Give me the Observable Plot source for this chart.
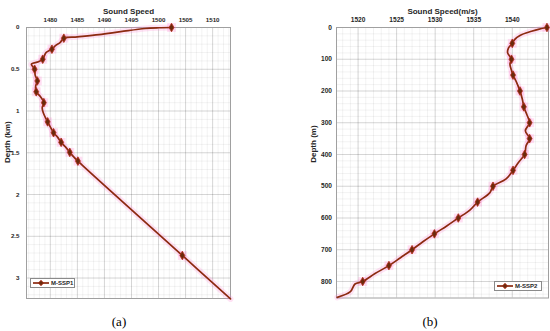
<!DOCTYPE html>
<html><head><meta charset="utf-8">
<script src="https://cdn.jsdelivr.net/npm/d3@7"></script>
<script src="https://cdn.jsdelivr.net/npm/@observablehq/plot@0.6"></script>
<style>
body{margin:0;background:#fff;}
#wrap{position:relative;width:550px;height:331px;overflow:hidden;font-family:"Liberation Sans",Arial,sans-serif;}
.panel{position:absolute;top:0;}
.cap{position:absolute;font-family:"Liberation Serif","Times New Roman",serif;font-size:13px;transform:translate(-50%,-50%);color:#000;}
.legend{position:absolute;border:1px solid #8a8a8a;background:#fff;font-weight:bold;font-size:6px;display:flex;align-items:center;box-sizing:border-box;color:#262626;}
.legend svg{margin:0 2px 0 2px;}
</style></head>
<body><div id="wrap"></div>
<script>
// ---- Panel (a): M-SSP1 ----
const speed1 = [1502.4,1500,1497.5,1493,1489,1485,1482.5,1481.8,1480.9,1480.3,1479.2,1478.6,1477.8,1476.5,1477.1,1477.2,1477.6,1477.3,1477.4,1478.2,1478.8,1478.5,1478.7,1479.5,1480.0,1480.6,1481.3,1482.0,1482.8,1483.6,1484.2,1485.1,1504.4,1513.3];
const depth1 = [0,0.003,0.012,0.05,0.085,0.112,0.128,0.18,0.22,0.26,0.3,0.38,0.41,0.44,0.5,0.57,0.64,0.7,0.77,0.83,0.9,0.96,1.02,1.13,1.19,1.26,1.31,1.375,1.43,1.495,1.54,1.6,2.73,3.25];
const markSpeed1 = [1502.4,1482.5,1480.3,1478.6,1477.1,1477.6,1477.4,1478.8,1479.5,1480.6,1482.0,1483.6,1485.1,1504.4];
const markDepth1 = [0,0.128,0.26,0.38,0.5,0.64,0.77,0.9,1.13,1.26,1.375,1.495,1.6,2.73];
const xTicks1 = [1480,1485,1490,1495,1500,1505,1510];
const yTicks1 = [0,0.5,1,1.5,2,2.5,3];

// ---- Panel (b): M-SSP2 ----
const speed2 = [1544.5,1543.5,1542.5,1541,1540.3,1540.0,1539.5,1539.4,1539.9,1539.7,1539.9,1540.1,1540.6,1541.0,1541.3,1541.5,1541.9,1542.25,1541.7,1542.25,1541.8,1541.6,1540.8,1540.1,1539.2,1537.5,1537.1,1535.5,1534.5,1533.0,1531.5,1529.9,1528.4,1527.0,1525.5,1524.0,1522.2,1520.6,1519.6,1519.0,1517.3];
const depth2 = [0,5,12,25,38,50,65,80,100,115,135,150,175,200,225,250,275,300,325,350,372,400,425,450,477,500,520,550,575,600,625,650,675,700,725,750,775,800,808,832,850];
const markSpeed2 = [1544.5,1540.0,1539.9,1540.1,1541.0,1541.5,1542.25,1542.25,1541.6,1540.1,1537.5,1535.5,1533.0,1529.9,1527.0,1524.0,1520.6];
const markDepth2 = [0,50,100,150,200,250,300,350,400,450,500,550,600,650,700,750,800];
const xTicks2 = [1520,1525,1530,1535,1540];
const yTicks2 = [0,100,200,300,400,500,600,700,800];

const LINE = "#8c2a10", MFILL = "#6b2a0c", MSTROKE = "#b3301a", HALO = "#ff7fd0";
const FONT = '"Liberation Sans", Arial, sans-serif';

function makePanel(o) {
  const line = o.speed.map((s, i) => ({s, d: o.depth[i]}));
  const mk = o.mSpeed.map((s, i) => ({s, d: o.mDepth[i]}));
  return Plot.plot({
    width: o.width, height: o.height,
    marginTop: o.mt, marginRight: o.mr, marginBottom: o.mb, marginLeft: o.ml,
    style: {fontFamily: FONT, fontWeight: "bold", fontSize: o.fs + "px", color: "#262626", background: "transparent", overflow: "visible"},
    x: {domain: o.xDomain},
    y: {domain: o.yDomain, reverse: true},
    marks: [
      Plot.gridX(o.xMinor, {stroke: "#000", strokeOpacity: 0.05}),
      Plot.gridY(o.yMinor, {stroke: "#000", strokeOpacity: 0.05}),
      Plot.gridX(o.xTicks, {stroke: "#000", strokeOpacity: 0.12}),
      Plot.gridY(o.yTicks, {stroke: "#000", strokeOpacity: 0.12}),
      Plot.frame({stroke: "#a0a0a0"}),
      Plot.axisX(o.xTicks, {anchor: "top", tickSize: 0, tickPadding: o.xPad, tickFormat: d => String(d), label: null}),
      Plot.axisY(o.yTicks, {anchor: "left", tickSize: 0, tickPadding: o.yPad, tickFormat: d => String(d), label: null}),
      Plot.line(line, {x: "s", y: "d", stroke: HALO, strokeWidth: 6, strokeOpacity: 0.22, curve: "catmull-rom"}),
      Plot.dot(mk, {x: "s", y: "d", symbol: "square", r: 5, fill: HALO, fillOpacity: 0.25}),
      Plot.line(line, {x: "s", y: "d", stroke: LINE, strokeWidth: 1.7, curve: "catmull-rom"}),
      Plot.dot(mk, {x: "s", y: "d", symbol: "diamond", r: 2.6, fill: MFILL, stroke: MSTROKE, strokeWidth: 0.8}),
      Plot.text([o.xLabel], {frameAnchor: "top", dy: -19, fontSize: 8, fill: "#262626"}),
      Plot.text([o.yLabel], {frameAnchor: "left", rotate: -90, dx: o.yLabelDx, fontSize: 8, fill: "#262626"})
    ]
  });
}

const wrap = document.getElementById("wrap");

const pA = makePanel({
  speed: speed1, depth: depth1, mSpeed: markSpeed1, mDepth: markDepth1,
  xDomain: [1475.6, 1513.3], yDomain: [0, 3.245],
  xTicks: xTicks1, yTicks: yTicks1,
  xMinor: d3.range(1476, 1514, 1), yMinor: d3.range(0, 3.25, 0.1),
  xLabel: "Sound Speed", yLabel: "Depth (km)",
  width: 275, height: 300, mt: 27, mr: 45, mb: 2, ml: 26,
  fs: 6.2, xPad: 6, yPad: 7, yLabelDx: -19
});
pA.classList.add("panel"); pA.style.left = "0px";
wrap.appendChild(pA);

const pB = makePanel({
  speed: speed2, depth: depth2, mSpeed: markSpeed2, mDepth: markDepth2,
  xDomain: [1517.2, 1544.7], yDomain: [0, 852],
  xTicks: xTicks2, yTicks: yTicks2,
  xMinor: d3.range(1518, 1545, 1), yMinor: d3.range(0, 852, 20),
  xLabel: "Sound Speed(m/s)", yLabel: "Depth (m)",
  width: 275, height: 300, mt: 27, mr: 2, mb: 2.5, ml: 61,
  fs: 6.6, xPad: 6, yPad: 4.5, yLabelDx: -23
});
pB.classList.add("panel"); pB.style.left = "275px";
wrap.appendChild(pB);

function legend(label, left, top, w) {
  const div = document.createElement("div");
  div.className = "legend";
  Object.assign(div.style, {left: left + "px", top: top + "px", width: w + "px", height: "10px"});
  div.innerHTML = `<svg width="16" height="8" viewBox="0 0 16 8"><line x1="0" y1="4" x2="16" y2="4" stroke="${LINE}" stroke-width="1.7"/><path d="M8,1.2L10.6,4L8,6.8L5.4,4Z" fill="${MFILL}" stroke="${MSTROKE}" stroke-width="0.8"/></svg><span>${label}</span>`;
  wrap.appendChild(div);
}
legend("M-SSP1", 30, 277.5, 45);
legend("M-SSP2", 494, 281, 48);

function caption(t, x, y) {
  const d = document.createElement("div");
  d.className = "cap"; d.textContent = t;
  d.style.left = x + "px"; d.style.top = y + "px";
  wrap.appendChild(d);
}
caption("(a)", 119, 322);
caption("(b)", 430, 322);
</script>
</body></html>
